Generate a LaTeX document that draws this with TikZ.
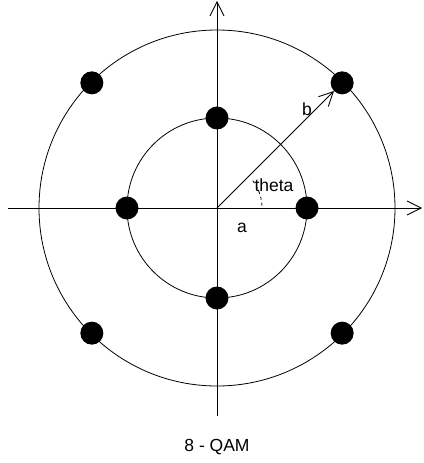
\documentclass[tikz,border=0pt]{standalone}
\usepackage{fontspec}
\setmainfont{Liberation Sans}
\usetikzlibrary{arrows.meta, positioning}
\tikzset{
  axis/.style={line width=0.8pt, -{Straight Barb[length=14pt, width=14pt, line width=0.8pt]}},
  ring/.style={draw, line width=0.8pt},
  dot/.style={circle, fill=black, inner sep=0pt, minimum size=23pt},
  label/.style={font=\fontsize{17.5}{20}\selectfont, inner sep=0pt},
  arrow/.style={line width=0.8pt, -{Straight Barb[length=14pt, width=14pt, line width=0.8pt]}},
}
\begin{document}
\begin{tikzpicture}[x=1pt, y=1pt]
  \useasboundingbox (-217,-255) rectangle (206,208);
  \coordinate (O) at (0,0);
  \coordinate (xl) at (-209,0);
  \coordinate (xr) at (205,0);
  \coordinate (yb) at (0,-208);
  \coordinate (yt) at (0,207);

  % axes
  \draw[axis] (xl) -- (xr);
  \draw[axis] (yb) -- (yt);

  % circles
  \draw[ring] (O) circle[radius=90];
  \draw[ring] (O) circle[radius=178];

  % inner points
  \node[dot] (p0) at (0:90) {};
  \node[dot] (p90) at (90:90) {};
  \node[dot] (p180) at (180:90) {};
  \node[dot] (p270) at (270:90) {};
  % outer points
  \node[dot] (q45) at (45:177) {};
  \node[dot] (q135) at (135:177) {};
  \node[dot] (q225) at (225:177) {};
  \node[dot] (q315) at (315:177) {};

  \draw[arrow] (O) -- (q45);
  \draw[line width=0.8pt, dashed] (3:45) arc[start angle=3, end angle=38, radius=45];

  \node[label] (theta) at (57,23) {theta};
  \node[label] (a) at (25,-20) {a};
  \node[label] (b) at (90,99) {b};
  \node[label] (title) at (0,-239) {8 - QAM};
\end{tikzpicture}
\end{document}
